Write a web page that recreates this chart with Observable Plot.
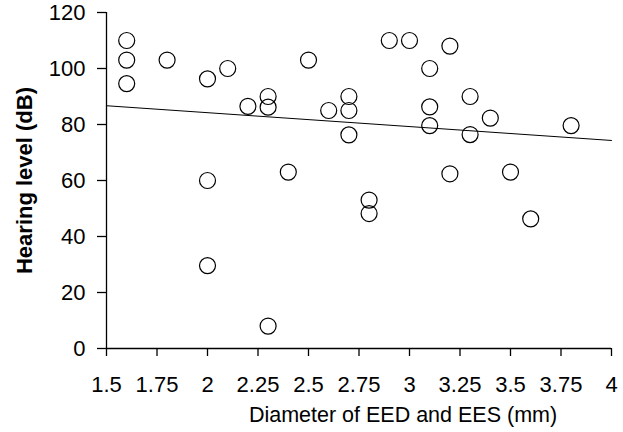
<!DOCTYPE html>
<html>
<head>
<meta charset="utf-8">
<script src="https://cdn.jsdelivr.net/npm/d3@7"></script>
<script src="https://cdn.jsdelivr.net/npm/@observablehq/plot@0.6"></script>
<style>
  html, body { margin: 0; padding: 0; background: #fff; }
</style>
</head>
<body>
<div id="chart"></div>
<script>
// Data
const diameter = [1.6, 1.6, 1.6, 1.8, 2.0, 2.0, 2.0, 2.1, 2.2, 2.3, 2.3, 2.3, 2.4, 2.5, 2.6, 2.7, 2.7, 2.7, 2.8, 2.8, 2.9, 3.0, 3.1, 3.1, 3.1, 3.2, 3.2, 3.3, 3.3, 3.4, 3.5, 3.6, 3.8];
const hearing  = [110, 103, 94.6, 103, 96.3, 60, 29.6, 100, 86.5, 90, 86.2, 8, 63, 103, 85, 90, 85, 76.3, 53, 48.2, 110, 110, 100, 86.3, 79.6, 108, 62.4, 90, 76.4, 82.3, 63, 46.3, 79.6];
const fitX = [1.5, 4];
const fitY = [86.7, 74.3];
const xTicks = [1.5, 1.75, 2, 2.25, 2.5, 2.75, 3, 3.25, 3.5, 3.75, 4];
const yTicks = [0, 20, 40, 60, 80, 100, 120];
const xTitle = "Diameter of EED and EES (mm)";
const yTitle = "Hearing level (dB)";

const points = diameter.map((d, i) => ({x: d, y: hearing[i]}));
const fit = fitX.map((d, i) => ({x: d, y: fitY[i]}));

const chart = Plot.plot({
  width: 623,
  height: 432,
  marginLeft: 106,
  marginRight: 12,
  marginTop: 12,
  marginBottom: 84,
  style: {fontFamily: "'Liberation Sans', Arial, sans-serif", fontSize: "22px", color: "#000", background: "#fff"},
  x: {domain: [1.5, 4]},
  y: {domain: [0, 120]},
  marks: [
    Plot.axisX({ticks: xTicks, tickFormat: d => String(d), tickSize: 8, tickPadding: 20, fontSize: 22, label: null, strokeWidth: 1.3}),
    Plot.axisY({ticks: yTicks, tickSize: 9, tickPadding: 12, fontSize: 22, label: null, strokeWidth: 1.3}),
    Plot.ruleY([0], {stroke: "#000", strokeWidth: 1.3}),
    Plot.ruleX([1.5], {stroke: "#000", strokeWidth: 1.3}),
    Plot.line(fit, {x: "x", y: "y", stroke: "#000", strokeWidth: 1}),
    Plot.dot(points, {x: "x", y: "y", r: 8, stroke: "#000", strokeWidth: 1.2, fill: "none"}),
    Plot.text([yTitle], {frameAnchor: "left", textAnchor: "middle", lineAnchor: "middle", rotate: -90, dx: -82, fontSize: 22, fontWeight: "bold", fill: "#000"}),
    Plot.text([xTitle], {frameAnchor: "bottom", textAnchor: "middle", lineAnchor: "middle", dx: 44, dy: 67, fontSize: 21.5, fill: "#000"})
  ]
});
document.getElementById("chart").appendChild(chart);
</script>
</body>
</html>
